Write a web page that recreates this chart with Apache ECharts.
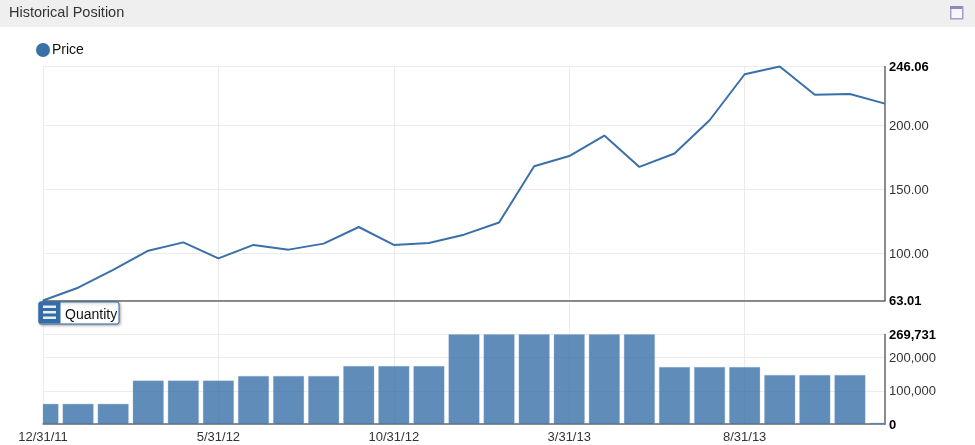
<!DOCTYPE html>
<html>
<head>
<meta charset="utf-8">
<style>html,body{margin:0;padding:0;background:#fff}#c{width:975px;height:445px}</style>
<script src="https://cdn.jsdelivr.net/npm/echarts@6/dist/echarts.min.js"></script>
</head>
<body>
<div id="c"></div>
<script>
const dates = ['12/31/11','1/31/12','2/29/12','3/31/12','4/30/12','5/31/12','6/30/12','7/31/12','8/31/12','9/30/12','10/31/12','11/30/12','12/31/12','1/31/13','2/28/13','3/31/13','4/30/13','5/31/13','6/30/13','7/31/13','8/31/13','9/30/13','10/31/13','11/30/13','12/31/13'];
const price = [63.01,73,87,102,108.5,96,106.5,102.8,107.5,120.5,106.5,108,114.5,124,168,176,192,167.5,178,204,240,246.06,224,224.5,217];
const quantity = [60000,60000,60000,130000,130000,130000,144000,144000,144000,174000,174000,174000,269731,269731,269731,269731,269731,269731,171000,171000,171000,147000,147000,147000,3000];
const priceTicks = [63.01,100,150,200,246.06];
const quantityTicks = [0,100000,200000,269731];
const priceMin = 63.01, priceMax = 246.06, quantityMax = 269731;
const title = 'Historical Position';
const priceName = 'Price', quantityName = 'Quantity';

const FONT = 'Liberation Sans, Arial, sans-serif';
const BLUE = '#3a70a8';
const lightLine = {show:true, lineStyle:{color:'#ececec', width:1}};
const dark = {show:true, lineStyle:{color:'#666', width:1.5}};
const rich = {b:{fontWeight:'bold', color:'#000', fontSize:13, fontFamily:FONT}};
const chart = echarts.init(document.getElementById('c'), null, {renderer:'canvas'});
const everyFifth = 4;
const barWidth = 30.5;

function renderBar(params, api) {
  const i = api.value(0), v = api.value(1);
  const top = api.coord([i, v]);
  const base = api.coord([i, 0]);
  const cs = params.coordSys;
  const rect = echarts.graphic.clipRectByRect(
    {x: top[0] - barWidth / 2, y: top[1], width: barWidth, height: base[1] - top[1]},
    {x: cs.x, y: cs.y, width: cs.width, height: cs.height});
  return rect && {
    type: 'rect', shape: rect,
    style: {fill: 'rgba(51,108,166,0.78)', stroke: 'rgba(140,175,210,0.6)', lineWidth: 0.5}
  };
}

chart.setOption({
  animation:false,
  textStyle:{fontFamily:FONT},
  legend:{show:true, data:[{name:priceName, icon:'circle'}], left:36, top:43, padding:0, itemWidth:14, itemHeight:14, itemGap:2,
    textStyle:{fontSize:14, color:'#111', fontFamily:FONT, padding:[2,0,0,-3]}},
  grid:[
    {left:43, right:90, top:66.5, height:234, containLabel:false},
    {left:43, right:90, top:334.5, height:89.5, containLabel:false},
    {left:43, right:90, top:301, height:34, containLabel:false}
  ],
  xAxis:[
    {type:'category', gridIndex:0, data:dates, boundaryGap:false, axisLine:{...dark, onZero:false}, axisTick:{show:false}, axisLabel:{show:false},
      splitLine:{...lightLine, interval:everyFifth}},
    {type:'category', gridIndex:1, data:dates, boundaryGap:false, axisLine:{...dark, onZero:false}, axisTick:{show:false},
      axisLabel:{show:true, interval:everyFifth, fontSize:13, color:'#333', fontFamily:FONT, margin:7, hideOverlap:false, showMinLabel:true},
      splitLine:{...lightLine, interval:everyFifth}},
    {type:'category', gridIndex:2, data:dates, boundaryGap:false, axisLine:{show:false}, axisTick:{show:false}, axisLabel:{show:false},
      splitLine:{...lightLine, interval:everyFifth}}
  ],
  yAxis:[
    {type:'value', gridIndex:0, position:'right', min:priceMin, max:priceMax,
      axisLine:{...dark, onZero:false}, axisTick:{show:false, customValues:priceTicks},
      axisLabel:{customValues:priceTicks, margin:4, fontSize:13, color:'#333', fontFamily:FONT, showMinLabel:true, showMaxLabel:true, hideOverlap:false,
        verticalAlignMinLabel:'middle', verticalAlignMaxLabel:'middle', padding:[2,0,0,0],
        rich, formatter:v => (v===priceMin||v===priceMax) ? '{b|'+v.toFixed(2)+'}' : v.toFixed(2)},
      splitLine:lightLine},
    {type:'value', gridIndex:1, position:'right', min:0, max:quantityMax,
      axisLine:{...dark, onZero:false}, axisTick:{show:false, customValues:quantityTicks},
      axisLabel:{customValues:quantityTicks, margin:4, fontSize:13, color:'#333', fontFamily:FONT, showMinLabel:true, showMaxLabel:true, hideOverlap:false,
        verticalAlignMinLabel:'middle', verticalAlignMaxLabel:'middle', padding:[2,0,0,0],
        rich, formatter:v => {const s=v.toLocaleString('en-US'); return (v===0||v===quantityMax) ? '{b|'+s+'}' : s;}},
      splitLine:lightLine},
    {type:'value', gridIndex:2, position:'right', min:0, max:1, axisLine:{show:false}, axisTick:{show:false}, axisLabel:{show:false}, splitLine:{show:false}}
  ],
  series:[
    {name:priceName, type:'line', xAxisIndex:0, yAxisIndex:0, data:price, showSymbol:false, symbol:'none', smooth:false, clip:false,
      lineStyle:{color:BLUE, width:2}, itemStyle:{color:BLUE}},
    {name:quantityName, type:'custom', xAxisIndex:1, yAxisIndex:1, renderItem:renderBar,
      encode:{x:0, y:1}, data:quantity.map((q, i) => [i, q])}
  ],
  graphic:[
    {type:'rect', left:0, top:0, z:10, shape:{width:975, height:27}, style:{fill:'#efefef'}},
    {type:'text', left:9, top:5, z:11, style:{text:title, fontSize:14.5, fontFamily:FONT, fill:'#333'}},
    {type:'rect', left:950, top:6, z:11, shape:{width:12, height:12}, style:{fill:'#f6f6fb', stroke:'#a6a0cc', lineWidth:1.5}},
    {type:'rect', left:950, top:6, z:12, shape:{width:12, height:3}, style:{fill:'#8f88bd'}},
    {type:'rect', left:38.5, top:301.5, z:20, shape:{width:80, height:22, r:2}, style:{fill:'#fff', stroke:'#336ca6', lineWidth:1, shadowBlur:3, shadowColor:'rgba(0,0,0,0.35)', shadowOffsetX:1, shadowOffsetY:1}},
    {type:'rect', left:38.5, top:301.5, z:21, shape:{width:22, height:22, r:[2,0,0,2]}, style:{fill:'#336ca6'}},
    {type:'rect', left:43, top:305.5, z:22, shape:{width:13, height:2.5}, style:{fill:'#e8eef5'}},
    {type:'rect', left:43, top:311, z:22, shape:{width:13, height:2.5}, style:{fill:'#e8eef5'}},
    {type:'rect', left:43, top:316.5, z:22, shape:{width:13, height:2.5}, style:{fill:'#e8eef5'}},
    {type:'text', left:65, top:308, z:22, style:{text:quantityName, fontSize:14, fontFamily:FONT, fill:'#111'}}
  ]
});
</script>
</body>
</html>
